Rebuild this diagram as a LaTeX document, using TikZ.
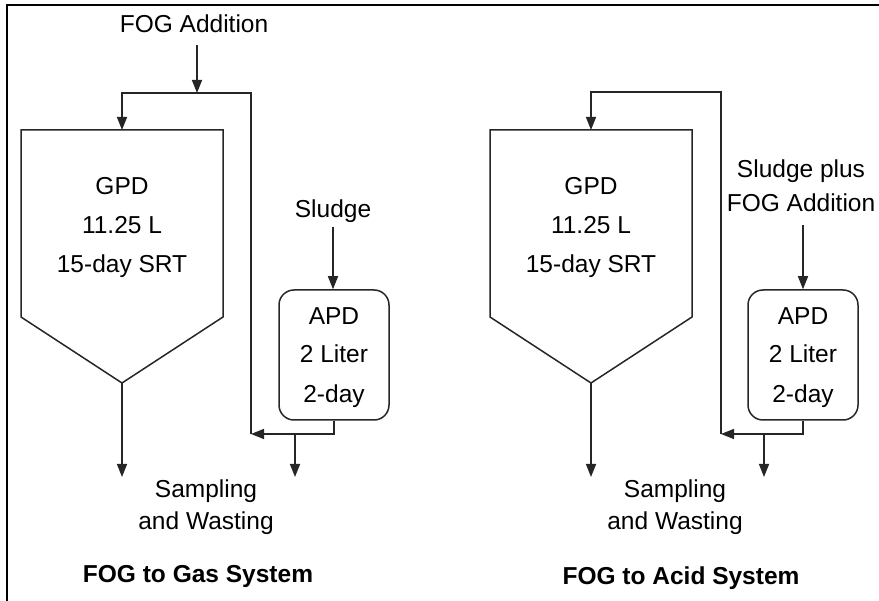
\documentclass[tikz,border=0pt]{standalone}
\usepackage{fontspec}
\setmainfont{Liberation Sans}
\usetikzlibrary{arrows.meta}
\begin{document}
\begin{tikzpicture}[x=1pt,y=-1pt,
  ln/.style={draw=black!85, line width=1.5pt},
  arr/.style={ln, -{Triangle[length=13pt,width=10pt]}},
  txt/.style={anchor=base, inner sep=0pt, font=\fontsize{24.5}{29}\selectfont},
  ttl/.style={anchor=base, inner sep=0pt, font=\fontsize{24.5}{29}\selectfont\bfseries},
  apdbox/.style={ln, rounded corners=15pt, minimum width=110pt, minimum height=130pt, inner sep=0pt}]
\useasboundingbox (0,0) rectangle (879,601);
% frame
\coordinate (fbl) at (7,601);
\coordinate (ftl) at (7,5);
\coordinate (ftr) at (879,5);
\draw[line width=2.5pt, black] (fbl) -- (ftl) -- (ftr);

% ================= left system =================
\node[txt] (fogL) at (194,33) {FOG Addition};
\coordinate (fogLs) at (197,45);
\coordinate (jL) at (197,93);
\coordinate (tLl) at (122,93);
\coordinate (tLr) at (251,93);
\coordinate (gLtop) at (122,130);
\coordinate (gL1) at (21,130);
\coordinate (gL2) at (223,130);
\coordinate (gL3) at (223,317);
\coordinate (gLapex) at (122,383);
\coordinate (gL5) at (21,317);
\draw[ln] (gL1) -- (gL2) -- (gL3) -- (gLapex) -- (gL5) -- cycle;
\node[txt] (gpdL1) at (122,195) {GPD};
\node[txt] (gpdL2) at (122,234) {11.25 L};
\node[txt] (gpdL3) at (122,273) {15-day SRT};
\draw[arr] (fogLs) -- (jL);
\coordinate (rLb) at (251,434);
\draw[arr] (rLb) -- (tLr) -- (tLl) -- (gLtop);
\coordinate (outL) at (122,477);
\draw[arr] (gLapex) -- (outL);

\node[txt] (sludgeL) at (333,218) {Sludge};
\coordinate (sludgeLs) at (333,227);
\node[apdbox] (apdL) at (334,355) {};
\node[txt] (apdL1) at (334,325) {APD};
\node[txt] (apdL2) at (334,363) {2 Liter};
\node[txt] (apdL3) at (334,403) {2-day};
\draw[arr] (sludgeLs) -- (apdL.north -| sludgeLs);
\coordinate (aLc) at (334,434);
\draw[arr] (apdL.south) -- (aLc) -- (rLb);
\coordinate (wLa) at (295,434);
\coordinate (wLb) at (295,477);
\draw[arr] (wLa) -- (wLb);
\node[txt] (sampL1) at (206,498) {Sampling};
\node[txt] (sampL2) at (206,530) {and Wasting};
\node[ttl] (titleL) at (198,583) {FOG to Gas System};

% ================= right system =================
\coordinate (tRl) at (591,92);
\coordinate (tRr) at (721,92);
\coordinate (gRtop) at (591,130);
\coordinate (gR1) at (490,130);
\coordinate (gR2) at (692,130);
\coordinate (gR3) at (692,317);
\coordinate (gRapex) at (591,383);
\coordinate (gR5) at (490,317);
\draw[ln] (gR1) -- (gR2) -- (gR3) -- (gRapex) -- (gR5) -- cycle;
\node[txt] (gpdR1) at (591,195) {GPD};
\node[txt] (gpdR2) at (591,234) {11.25 L};
\node[txt] (gpdR3) at (591,273) {15-day SRT};
\coordinate (rRb) at (721,434);
\draw[arr] (rRb) -- (tRr) -- (tRl) -- (gRtop);
\coordinate (outR) at (591,477);
\draw[arr] (gRapex) -- (outR);

\node[txt] (sludgeR1) at (801,178) {Sludge plus};
\node[txt] (sludgeR2) at (801,212) {FOG Addition};
\coordinate (sludgeRs) at (803,225);
\node[apdbox] (apdR) at (803,355) {};
\node[txt] (apdR1) at (803,325) {APD};
\node[txt] (apdR2) at (803,363) {2 Liter};
\node[txt] (apdR3) at (803,403) {2-day};
\draw[arr] (sludgeRs) -- (apdR.north -| sludgeRs);
\coordinate (aRc) at (803,434);
\draw[arr] (apdR.south) -- (aRc) -- (rRb);
\coordinate (wRa) at (764,434);
\coordinate (wRb) at (764,477);
\draw[arr] (wRa) -- (wRb);
\node[txt] (sampR1) at (675,498) {Sampling};
\node[txt] (sampR2) at (675,530) {and Wasting};
\node[ttl] (titleR) at (681,584) {FOG to Acid System};
\end{tikzpicture}
\end{document}
